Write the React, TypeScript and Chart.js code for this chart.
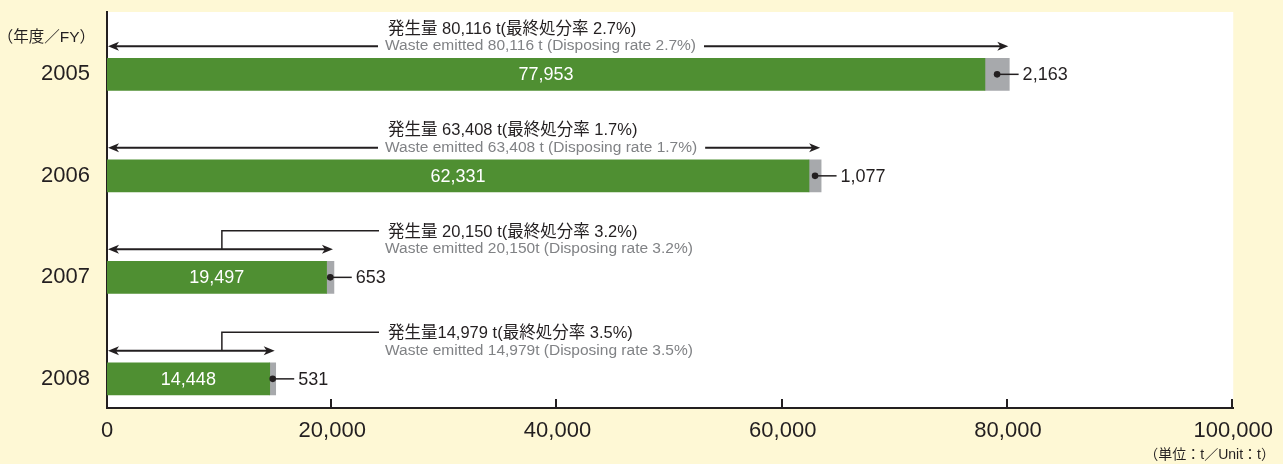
import React, { useEffect, useRef } from 'react';
import { Chart, registerables } from 'chart.js';

Chart.register(...registerables);

const years = ['2005', '2006', '2007', '2008'];
const recycled = [77953, 62331, 19497, 14448];
const finalDisposal = [2163, 1077, 653, 531];
const totals = [80116, 63408, 20150, 14979];
const jpLabels = [
  '発生量 80,116 t(最終処分率 2.7%)',
  '発生量 63,408 t(最終処分率 1.7%)',
  '発生量 20,150 t(最終処分率 3.2%)',
  '発生量14,979 t(最終処分率 3.5%)',
];
const enLabels = [
  'Waste emitted 80,116 t (Disposing rate 2.7%)',
  'Waste emitted 63,408 t (Disposing rate 1.7%)',
  'Waste emitted 20,150t (Disposing rate 3.2%)',
  'Waste emitted 14,979t (Disposing rate 3.5%)',
];
const xTickValues = [0, 20000, 40000, 60000, 80000, 100000];
const yAxisTitle = '（年度／FY）';
const unitLabel = '（単位：t／Unit：t）';

const BG = '#fef8d5';
const INK = '#231f20';
const GREEN = '#4f8f32';
const GRAY = '#a7a9ac';
const TEXT_GRAY = '#808285';
const LATIN = "'Liberation Sans', Arial, sans-serif";
const JP = "'Liberation Sans', 'Noto Sans CJK JP', sans-serif";

const fmt = (v: number) => v.toLocaleString('en-US');

function arrowHead(ctx: CanvasRenderingContext2D, tipX: number, y: number, dir: number) {
  ctx.beginPath();
  ctx.moveTo(tipX, y);
  ctx.lineTo(tipX - dir * 11, y - 4.5);
  ctx.lineTo(tipX - dir * 8, y);
  ctx.lineTo(tipX - dir * 11, y + 4.5);
  ctx.closePath();
  ctx.fill();
}

const decorPlugin = {
  id: 'decor',
  beforeDraw(chart: any) {
    const { ctx, chartArea: a, width, height } = chart;
    ctx.save();
    ctx.fillStyle = BG;
    ctx.fillRect(0, 0, width, height);
    ctx.fillStyle = '#ffffff';
    ctx.fillRect(a.left, a.top, a.right - a.left, a.bottom - a.top);
    ctx.restore();
  },
  afterDraw(chart: any) {
    const { ctx, chartArea: a, scales, width } = chart;
    const xs = scales.x;
    const ys = scales.y;
    ctx.save();
    ctx.strokeStyle = INK;
    ctx.lineWidth = 2;
    xTickValues.slice(1).forEach((v) => {
      const px = Math.round(xs.getPixelForValue(v)) - 1;
      ctx.beginPath();
      ctx.moveTo(px, a.bottom);
      ctx.lineTo(px, a.bottom - 9);
      ctx.stroke();
    });

    ctx.fillStyle = INK;
    ctx.font = `15.5px ${JP}`;
    ctx.textAlign = 'right';
    ctx.textBaseline = 'middle';
    ctx.fillText(yAxisTitle, 95, 38);
    ctx.font = `14px ${JP}`;
    ctx.fillText(unitLabel, width - 8, 455);

    const gMeta = chart.getDatasetMeta(0);
    const dMeta = chart.getDatasetMeta(1);
    const textX = a.left + 279;

    years.forEach((_, i) => {
      const g = gMeta.data[i];
      const d = dMeta.data[i];
      const cy = ys.getPixelForValue(i);

      ctx.fillStyle = '#ffffff';
      ctx.font = `18px ${LATIN}`;
      ctx.textAlign = 'center';
      ctx.textBaseline = 'middle';
      ctx.fillText(fmt(recycled[i]), (g.base + g.x) / 2, cy + 1);

      const dotX = (d.base + d.x) / 2;
      ctx.fillStyle = INK;
      ctx.strokeStyle = INK;
      ctx.lineWidth = 1.5;
      ctx.beginPath();
      ctx.arc(dotX, cy, 3.3, 0, Math.PI * 2);
      ctx.fill();
      ctx.beginPath();
      ctx.moveTo(dotX, cy);
      ctx.lineTo(dotX + 21.5, cy);
      ctx.stroke();
      ctx.font = `18px ${LATIN}`;
      ctx.textAlign = 'left';
      ctx.fillText(fmt(finalDisposal[i]), dotX + 25.5, cy + 1);

      const ay = cy - 28;
      const x0 = xs.getPixelForValue(0) + 1;
      const x1 = xs.getPixelForValue(totals[i]) - 1;
      ctx.font = `15.5px ${LATIN}`;
      const enW = ctx.measureText(enLabels[i]).width;
      ctx.lineWidth = 2;
      if (x1 > textX + enW) {
        ctx.beginPath();
        ctx.moveTo(x0 + 6, ay);
        ctx.lineTo(textX - 8, ay);
        ctx.moveTo(textX + enW + 7, ay);
        ctx.lineTo(x1 - 6, ay);
        ctx.stroke();
      } else {
        ctx.beginPath();
        ctx.moveTo(x0 + 6, ay);
        ctx.lineTo(x1 - 6, ay);
        ctx.stroke();
        const lx = xs.getPixelForValue(10200);
        const ly = cy - 46.5;
        ctx.lineWidth = 1.5;
        ctx.beginPath();
        ctx.moveTo(lx, ay);
        ctx.lineTo(lx, ly);
        ctx.lineTo(textX - 7, ly);
        ctx.stroke();
      }
      arrowHead(ctx, x0, ay, -1);
      arrowHead(ctx, x1, ay, 1);

      ctx.textAlign = 'left';
      ctx.textBaseline = 'middle';
      ctx.fillStyle = TEXT_GRAY;
      ctx.fillText(enLabels[i], textX - 1, cy - 28.5);
      ctx.fillStyle = INK;
      ctx.font = `16.5px ${JP}`;
      ctx.fillText(jpLabels[i], textX + 2, cy - 45);
    });
    ctx.restore();
  },
};

export default function App() {
  const ref = useRef<HTMLCanvasElement | null>(null);
  useEffect(() => {
    const canvas = ref.current;
    if (!canvas) return;
    const chart = new Chart(canvas, {
      type: 'bar',
      data: {
        datasets: [
          {
            label: 'recycled',
            data: recycled.map((v, i) => ({ x: v, y: i })),
            backgroundColor: GREEN,
            barThickness: 32,
            stack: 's',
          },
          {
            label: 'final disposal',
            data: finalDisposal.map((v, i) => ({ x: v, y: i })),
            backgroundColor: GRAY,
            barThickness: 32,
            stack: 's',
          },
        ],
      },
      options: {
        indexAxis: 'y',
        responsive: false,
        animation: false,
        devicePixelRatio: 1,
        layout: { padding: { top: 12, right: 48, left: 0, bottom: 0 } },
        plugins: { legend: { display: false }, tooltip: { enabled: false } },
        scales: {
          x: {
            type: 'linear',
            stacked: true,
            min: 0,
            max: 100000,
            afterBuildTicks: (s: any) => {
              s.ticks = xTickValues.map((v) => ({ value: v }));
            },
            afterFit: (s: any) => {
              s.height = 56;
            },
            grid: { display: false, drawTicks: false },
            border: { display: true, color: INK, width: 2 },
            ticks: {
              padding: 10,
              color: INK,
              font: { family: LATIN, size: 22 },
              maxRotation: 0,
              callback: (v: any) => fmt(Number(v)),
            },
          },
          y: {
            type: 'linear',
            stacked: true,
            reverse: true,
            offset: false,
            min: -0.614,
            max: 3.287,
            afterBuildTicks: (s: any) => {
              s.ticks = years.map((_, i) => ({ value: i }));
            },
            afterFit: (s: any) => {
              s.width = 107;
              s.paddingTop = 0;
              s.paddingBottom = 0;
            },
            grid: { display: false, drawTicks: false, offset: false },
            border: { display: true, color: INK, width: 2 },
            ticks: {
              padding: 17,
              color: INK,
              font: { family: LATIN, size: 22 },
              callback: (v: any) => years[Number(v)] ?? '',
            },
          },
        },
      },
      plugins: [decorPlugin],
    } as any);
    return () => chart.destroy();
  }, []);

  return (
    <div style={{ position: 'absolute', left: 0, top: 0, width: 1283, height: 464 }}>
      <canvas ref={ref} width={1283} height={464} style={{ display: 'block' }} />
    </div>
  );
}
